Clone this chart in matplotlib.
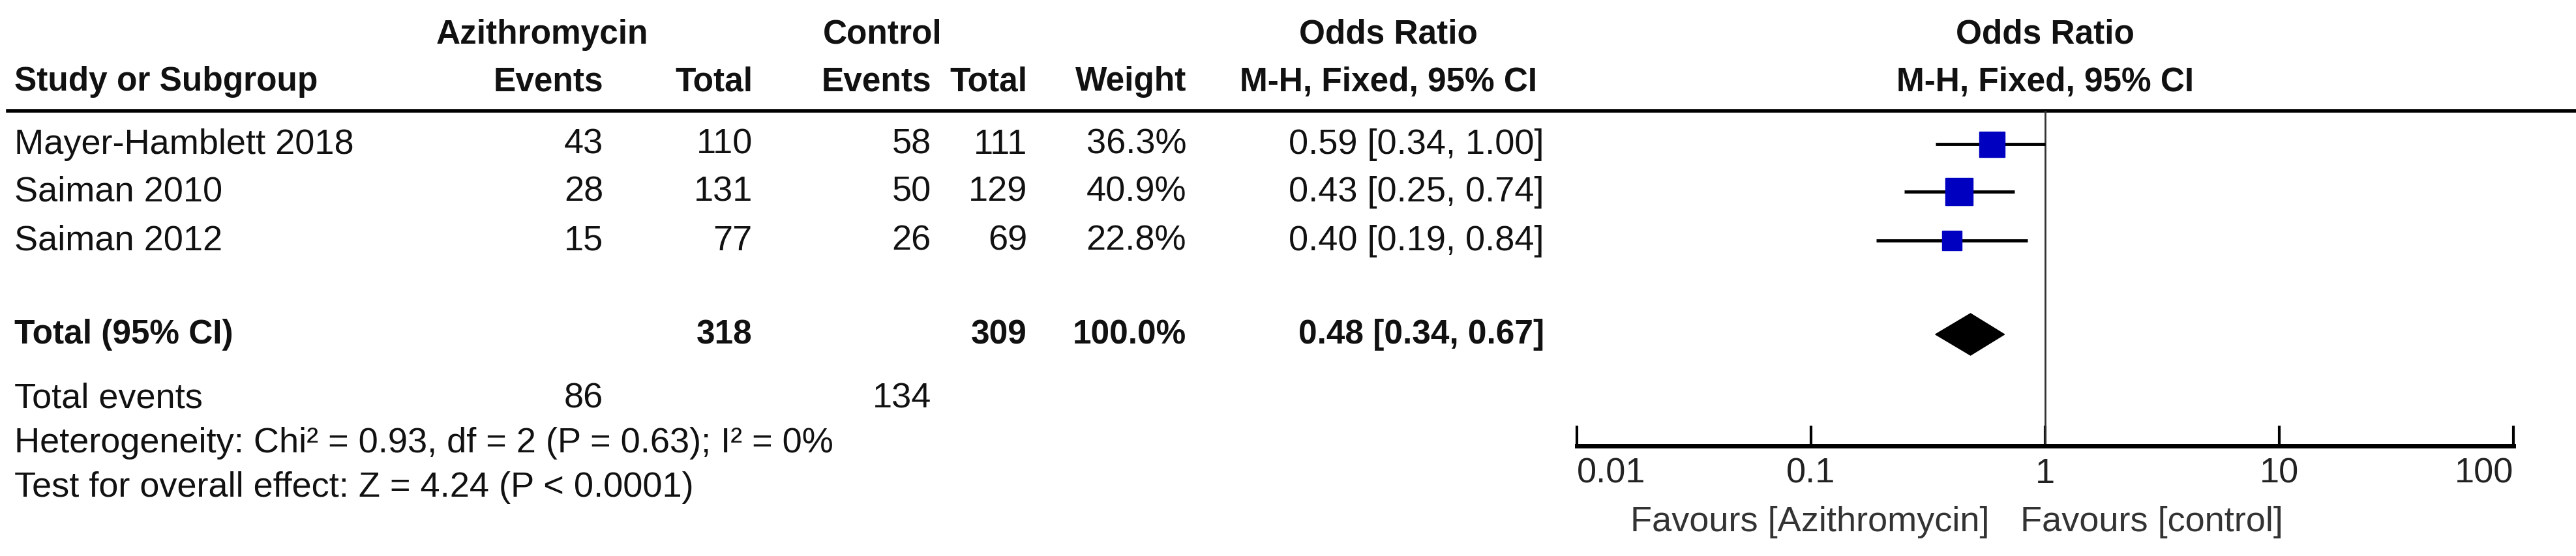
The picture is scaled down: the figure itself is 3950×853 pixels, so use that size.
import matplotlib.pyplot as plt
import numpy as np

plt.rcParams['font.family'] = ['Liberation Sans', 'DejaVu Sans']

# Study data
studies = ['Mayer-Hamblett 2018', 'Saiman 2010', 'Saiman 2012']
azi_events = [43, 28, 15]
azi_total = [110, 131, 77]
ctl_events = [58, 50, 26]
ctl_total = [111, 129, 69]
weights = [36.3, 40.9, 22.8]
odds = [0.59, 0.43, 0.40]
ci_low = [0.34, 0.25, 0.19]
ci_high = [1.00, 0.74, 0.84]

pooled = 0.48
pooled_low = 0.34
pooled_high = 0.67
sum_azi_total = 318
sum_ctl_total = 309
sum_azi_events = 86
sum_ctl_events = 134

heterogeneity = "Heterogeneity: Chi² = 0.93, df = 2 (P = 0.63); I² = 0%"
overall = "Test for overall effect: Z = 4.24 (P < 0.0001)"

W, H = 3950, 854
fig = plt.figure(figsize=(W / 100, H / 100), dpi=100)
tab = fig.add_axes([0, 0, 1, 1])
tab.set_xlim(0, W)
tab.set_ylim(H, 0)
tab.axis('off')

fs = 39
fsb = 37
row_y = [222, 295, 370]
total_y = 514
left = 22

# column right edges
col_x = [925, 1154, 1428, 1575, 1819, 2368]

def txt(x, y, s, ha='right', bold=False, color='#111111'):
    tab.text(x, y, s, ha=ha, va='center', fontsize=fsb if bold else fs,
             fontweight='bold' if bold else 'normal', color=color)

# headers
txt(831, 53, 'Azithromycin', ha='center', bold=True)
txt(1353, 53, 'Control', ha='center', bold=True)
txt(2129, 53, 'Odds Ratio', ha='center', bold=True)
txt(3136, 53, 'Odds Ratio', ha='center', bold=True)
txt(left, 126, 'Study or Subgroup', ha='left', bold=True)
for x, h in zip(col_x[:5], ['Events', 'Total', 'Events', 'Total', 'Weight']):
    txt(x, 126, h, bold=True)
txt(2129, 126, 'M-H, Fixed, 95% CI', ha='center', bold=True)
txt(3136, 126, 'M-H, Fixed, 95% CI', ha='center', bold=True)
tab.plot([12, W], [171, 171], color='black', lw=4)

for i, y in enumerate(row_y):
    txt(left, y, studies[i], ha='left')
    vals = [azi_events[i], azi_total[i], ctl_events[i], ctl_total[i],
            f"{weights[i]:.1f}%", f"{odds[i]:.2f} [{ci_low[i]:.2f}, {ci_high[i]:.2f}]"]
    for x, v in zip(col_x, vals):
        txt(x, y, str(v))

txt(left, total_y, 'Total (95% CI)', ha='left', bold=True)
txt(col_x[1], total_y, str(sum_azi_total), bold=True)
txt(col_x[3], total_y, str(sum_ctl_total), bold=True)
txt(col_x[4], total_y, f"{sum(weights):.1f}%", bold=True)
txt(col_x[5], total_y, f"{pooled:.2f} [{pooled_low:.2f}, {pooled_high:.2f}]", bold=True)

txt(left, 612, 'Total events', ha='left')
txt(col_x[0], 612, str(sum_azi_events))
txt(col_x[2], 612, str(sum_ctl_events))
txt(left, 680, heterogeneity, ha='left')
txt(left, 748, overall, ha='left')

# forest plot
x0, x1, ytop, ybot = 2418, 3854, 171, 685
ax = fig.add_axes([x0 / W, (H - ybot) / H, (x1 - x0) / W, (ybot - ytop) / H])
ax.set_xscale('log')
ax.set_xlim(0.01, 100)
ax.set_ylim(ybot, ytop)
ax.patch.set_alpha(0)
for s in ['top', 'left', 'right']:
    ax.spines[s].set_visible(False)
ax.spines['bottom'].set_linewidth(5)
ax.set_yticks([])
ax.set_xticks([0.01, 0.1, 1, 10, 100])
ax.set_xticklabels(['0.01', '0.1', '1', '10', '100'])
ax.minorticks_off()
ax.tick_params(axis='x', direction='in', length=22, width=3, labelsize=fs,
               pad=12, labelcolor='#222222')
for lab, ha in zip(ax.get_xticklabels(), ['left', 'center', 'center', 'center', 'right']):
    lab.set_ha(ha)
ax.axvline(1, color='#333333', lw=2)

sizes = [39, 43, 30]
for i, y in enumerate(row_y):
    ax.plot([ci_low[i], ci_high[i]], [y, y], color='black', lw=3.5, solid_capstyle='butt')
    ax.plot(odds[i], y, marker='s', ms=sizes[i] * 0.72, color='#0000C0', mec='#0000C0')

dh = 32
ax.fill([pooled_low, pooled, pooled_high, pooled],
        [total_y, total_y - dh, total_y, total_y + dh], color='black')

txt(3050, 801, 'Favours [Azithromycin]', ha='right', color='#333333')
txt(3098, 801, 'Favours [control]', ha='left', color='#333333')

fig.savefig('out.png', dpi=100)
